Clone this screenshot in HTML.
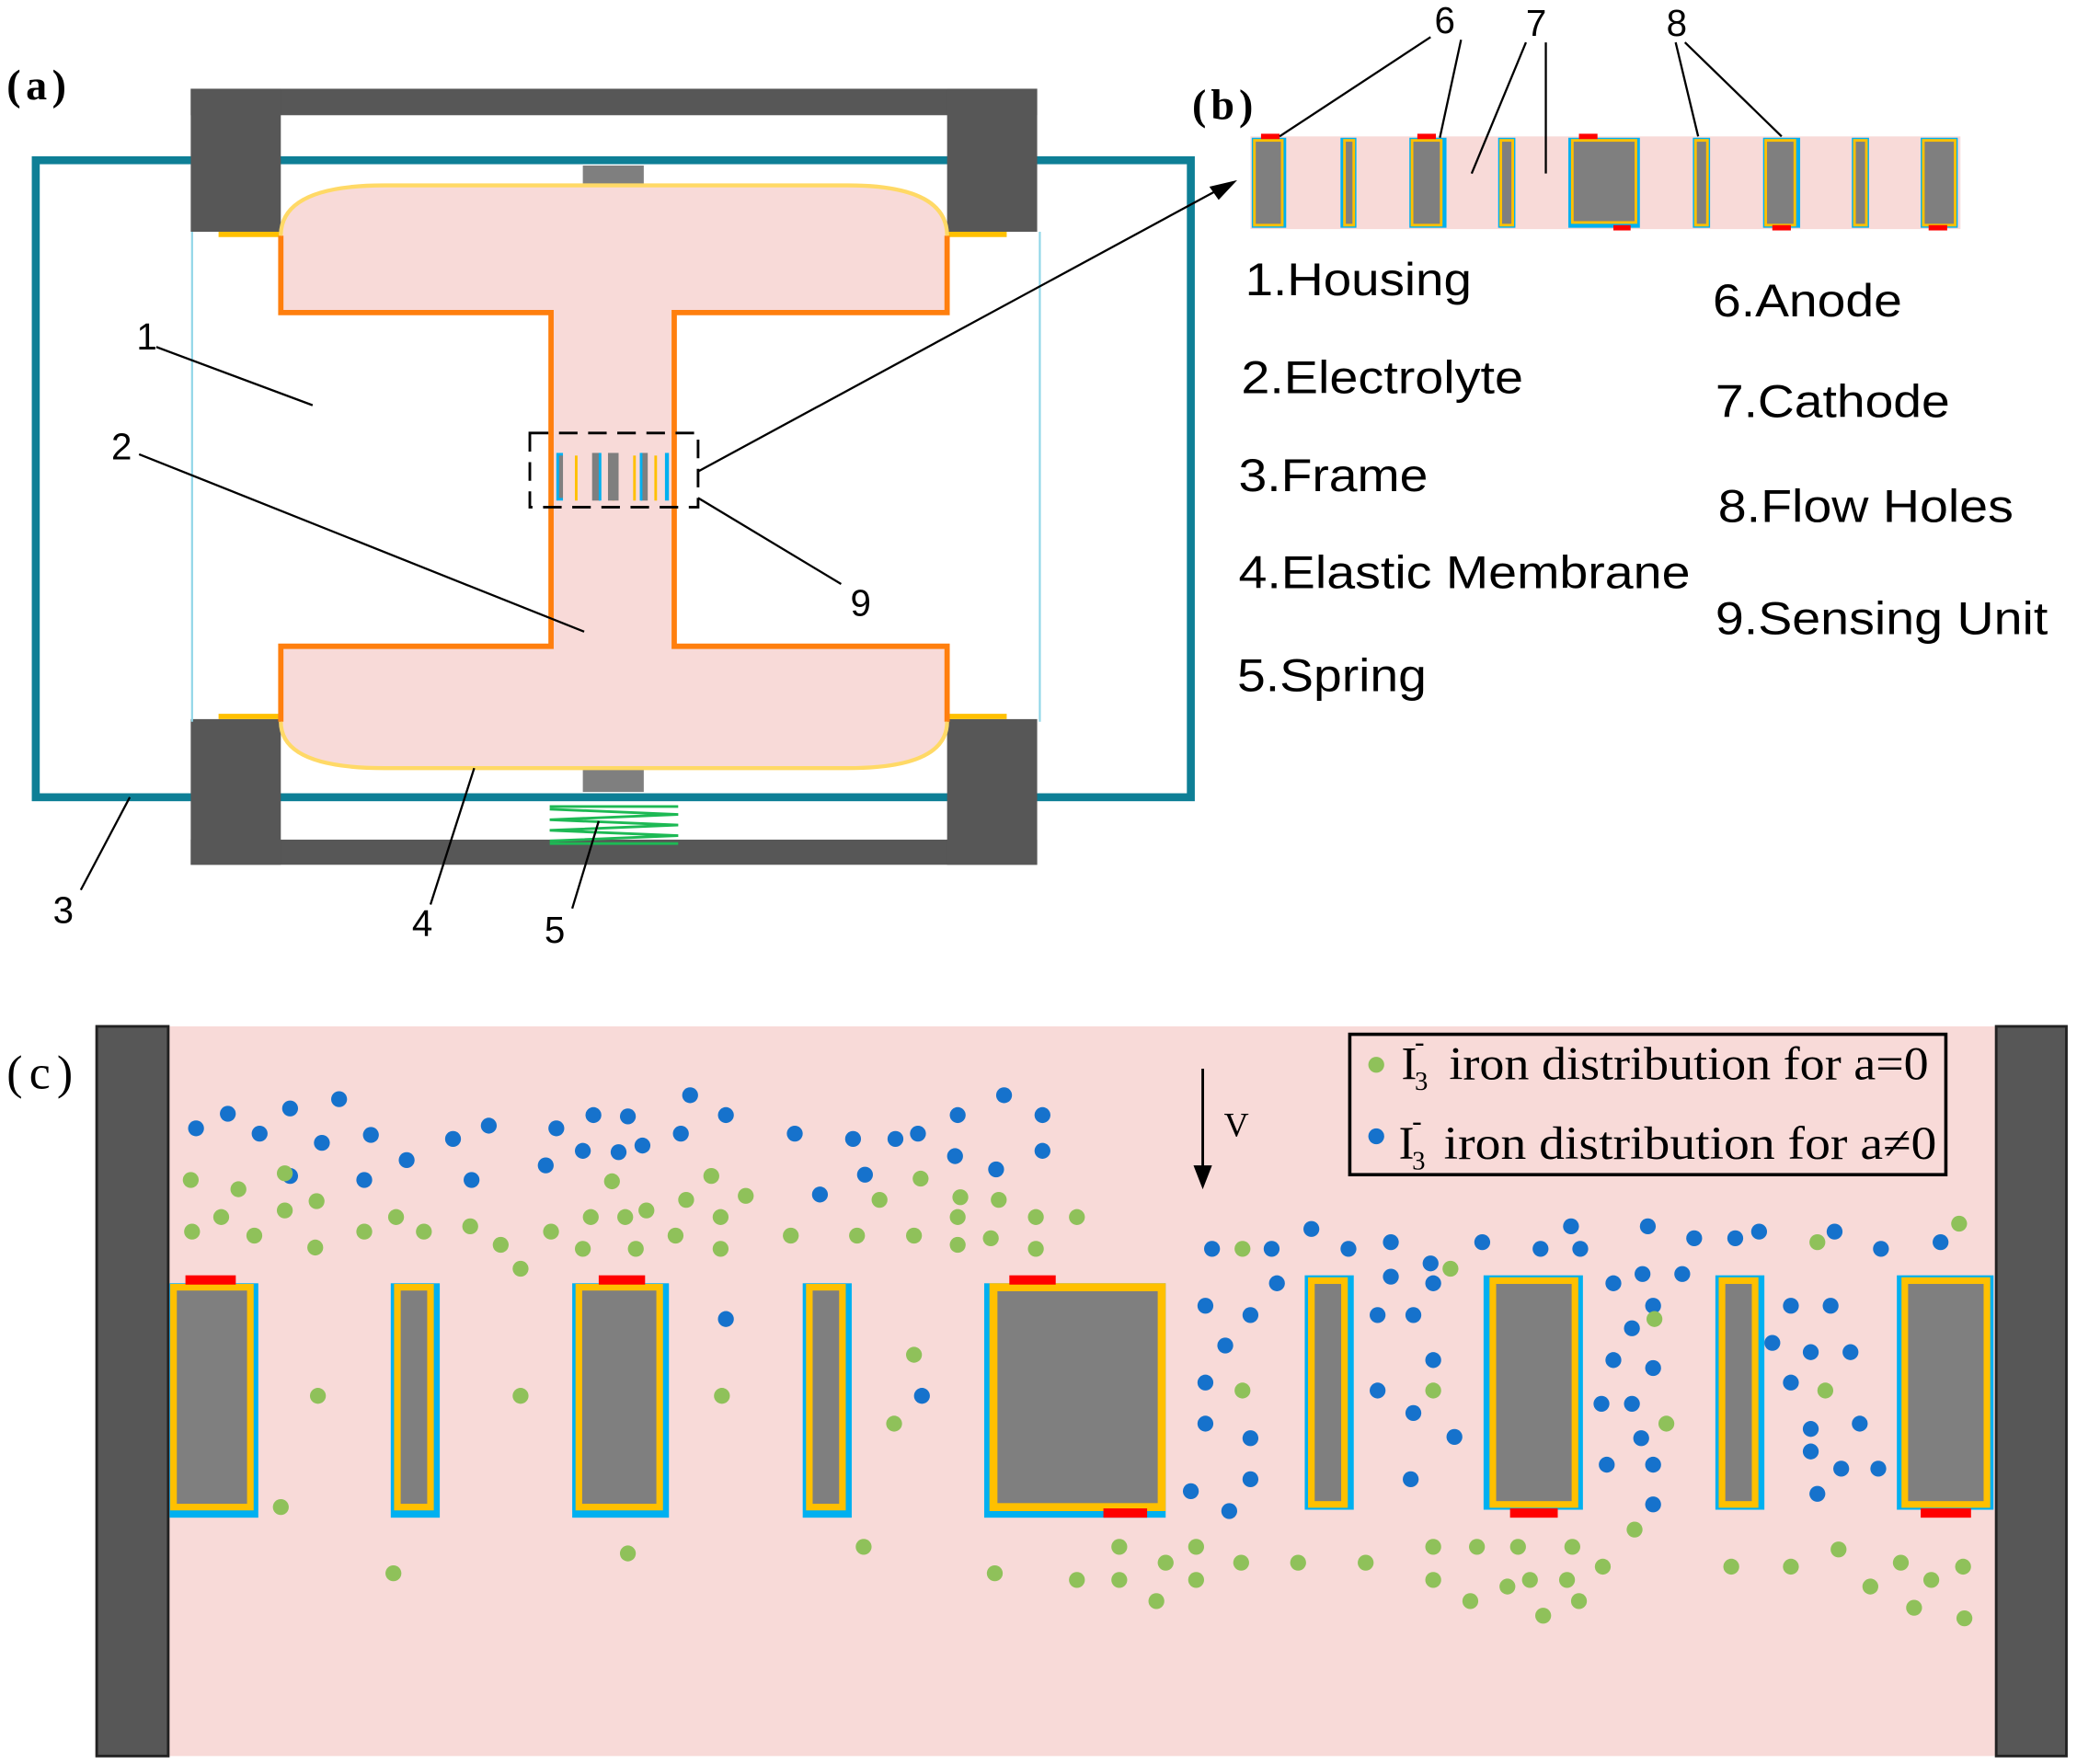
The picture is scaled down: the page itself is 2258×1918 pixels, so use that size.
<!DOCTYPE html>
<html><head><meta charset="utf-8"><style>html,body{margin:0;padding:0;background:#fff}svg{display:block}</style></head><body>
<svg xmlns="http://www.w3.org/2000/svg" width="2258" height="1918" viewBox="0 0 1568 1332" preserveAspectRatio="none" font-family="Liberation Sans, sans-serif">
<!-- Panel (a) -->
<text x="5" y="75" font-family="Liberation Serif, serif" font-size="32" font-weight="bold" textLength="45">(a)</text>
<rect x="27" y="121" width="872" height="481" fill="none" stroke="#0e7f96" stroke-width="6"/>
<rect x="144" y="67" width="639" height="20" fill="#575757"/>
<rect x="144" y="67" width="68" height="108" fill="#575757"/>
<rect x="715" y="67" width="68" height="108" fill="#575757"/>
<rect x="144" y="634" width="639" height="19" fill="#575757"/>
<rect x="144" y="543" width="68" height="110" fill="#575757"/>
<rect x="715" y="543" width="68" height="110" fill="#575757"/>
<rect x="440" y="125" width="46" height="15" fill="#7f7f7f"/>
<rect x="440" y="580" width="46" height="18" fill="#7f7f7f"/>
<line x1="145" y1="175" x2="145" y2="545" stroke="#8fd6e8" stroke-width="1.5"/>
<line x1="785" y1="175" x2="785" y2="545" stroke="#8fd6e8" stroke-width="1.5"/>
<line x1="165" y1="177" x2="212" y2="177" stroke="#ffc000" stroke-width="4"/>
<line x1="715" y1="177" x2="760" y2="177" stroke="#ffc000" stroke-width="4"/>
<line x1="165" y1="541" x2="212" y2="541" stroke="#ffc000" stroke-width="4"/>
<line x1="715" y1="541" x2="760" y2="541" stroke="#ffc000" stroke-width="4"/>
<path d="M212,236 L212,178 Q212,140 290,140 L640,140 Q715,140 715,178 L715,236 L509,236 L509,488 L715,488 L715,545 Q715,580 640,580 L290,580 Q212,580 212,545 L212,488 L416,488 L416,236 Z" fill="#f8dad8"/>
<path d="M212,178 L212,236 L416,236 L416,488 L212,488 L212,545 M715,178 L715,236 L509,236 L509,488 L715,488 L715,545" fill="none" stroke="#ff7f0e" stroke-width="4"/>
<path d="M212,178 Q212,140 290,140 L640,140 Q715,140 715,178" fill="none" stroke="#ffd966" stroke-width="3"/>
<path d="M212,545 Q212,580 290,580 L640,580 Q715,580 715,545" fill="none" stroke="#ffd966" stroke-width="3"/>
<!-- spring -->
<path d="M415,611 L512,615 L415,619 L512,623 L415,627 L512,631 L415,635" fill="none" stroke="#1db954" stroke-width="2"/>
<path d="M415,609 L512,609 M415,637 L512,637" stroke="#1db954" stroke-width="2"/>
<!-- sensing unit mini -->
<g>
<rect x="420" y="342" width="85" height="37" fill="#f8dad8"/>
<rect x="420" y="342" width="5" height="36" fill="#00b0f0"/><rect x="422" y="344" width="3" height="32" fill="#7f7f7f"/>
<rect x="434" y="344" width="2" height="34" fill="#ffc000"/>
<rect x="447" y="342" width="6" height="36" fill="#7f7f7f"/><rect x="452" y="342" width="2" height="36" fill="#00b0f0"/>
<rect x="462" y="344" width="2" height="34" fill="#ffc000"/>
<rect x="459" y="342" width="8" height="36" fill="#7f7f7f"/>
<rect x="478" y="344" width="2" height="34" fill="#ffc000"/>
<rect x="484" y="342" width="5" height="36" fill="#7f7f7f"/><rect x="483" y="342" width="2" height="36" fill="#00b0f0"/>
<rect x="494" y="344" width="2" height="34" fill="#ffc000"/>
<rect x="502" y="342" width="3" height="36" fill="#00b0f0"/>
</g>
<rect x="400" y="327" width="127" height="56" fill="none" stroke="#000" stroke-width="2" stroke-dasharray="14,8"/>
<!-- leaders (a) -->
<g stroke="#000" stroke-width="1.6" fill="none">
<line x1="118" y1="262" x2="236" y2="306"/>
<line x1="105" y1="343" x2="441" y2="477"/>
<line x1="61" y1="672" x2="98" y2="602"/>
<line x1="325" y1="683" x2="358" y2="580"/>
<line x1="432" y1="686" x2="452" y2="620"/>
<line x1="527" y1="376" x2="635" y2="441"/>
<line x1="527" y1="356" x2="922" y2="142"/>
</g>
<polygon points="934,136 913,141 920,151" fill="#000"/>
<g font-size="28">
<text x="103" y="264">1</text><text x="84" y="347">2</text><text x="40" y="697">3</text>
<text x="311" y="707">4</text><text x="411" y="712">5</text><text x="642" y="465">9</text>
</g>
<!-- Panel (b) -->
<text x="900" y="90" font-family="Liberation Serif, serif" font-size="32" font-weight="bold" textLength="46">(b)</text>
<rect x="944" y="103" width="536" height="70" fill="#f8dad8"/>
<g>
<rect x="945" y="104" width="26" height="68" fill="#00b0f0"/><rect x="947" y="106" width="21" height="64" fill="#7f7f7f" stroke="#ffc000" stroke-width="2"/>
<rect x="1012" y="104" width="12" height="68" fill="#00b0f0"/><rect x="1015" y="106" width="7" height="64" fill="#7f7f7f" stroke="#ffc000" stroke-width="2"/>
<rect x="1064" y="104" width="28" height="68" fill="#00b0f0"/><rect x="1066" y="106" width="22" height="64" fill="#7f7f7f" stroke="#ffc000" stroke-width="2"/>
<rect x="1131" y="104" width="13" height="68" fill="#00b0f0"/><rect x="1133" y="106" width="9" height="64" fill="#7f7f7f" stroke="#ffc000" stroke-width="2"/>
<rect x="1184" y="104" width="54" height="68" fill="#00b0f0"/><rect x="1187" y="106" width="48" height="62" fill="#7f7f7f" stroke="#ffc000" stroke-width="2"/>
<rect x="1278" y="104" width="13" height="68" fill="#00b0f0"/><rect x="1280" y="106" width="9" height="64" fill="#7f7f7f" stroke="#ffc000" stroke-width="2"/>
<rect x="1331" y="104" width="28" height="68" fill="#00b0f0"/><rect x="1333" y="106" width="22" height="64" fill="#7f7f7f" stroke="#ffc000" stroke-width="2"/>
<rect x="1398" y="104" width="13" height="68" fill="#00b0f0"/><rect x="1400" y="106" width="9" height="64" fill="#7f7f7f" stroke="#ffc000" stroke-width="2"/>
<rect x="1450" y="104" width="28" height="68" fill="#00b0f0"/><rect x="1452" y="106" width="24" height="64" fill="#7f7f7f" stroke="#ffc000" stroke-width="2"/>
<rect x="952" y="101" width="14" height="4" fill="#ff0000"/><rect x="1070" y="101" width="14" height="4" fill="#ff0000"/>
<rect x="1192" y="101" width="14" height="4" fill="#ff0000"/><rect x="1218" y="170" width="13" height="4" fill="#ff0000"/>
<rect x="1338" y="170" width="14" height="4" fill="#ff0000"/><rect x="1456" y="170" width="14" height="4" fill="#ff0000"/>
</g>
<g stroke="#000" stroke-width="1.6">
<line x1="1080" y1="28" x2="966" y2="103"/><line x1="1103" y1="30" x2="1087" y2="104"/>
<line x1="1152" y1="32" x2="1111" y2="131"/><line x1="1167" y1="32" x2="1167" y2="131"/>
<line x1="1265" y1="32" x2="1282" y2="103"/><line x1="1272" y1="32" x2="1345" y2="103"/>
</g>
<g font-size="28"><text x="1083" y="25">6</text><text x="1152" y="27">7</text><text x="1258" y="27">8</text></g>
<g font-size="35" lengthAdjust="spacingAndGlyphs">
<text x="940" y="223" textLength="171" lengthAdjust="spacingAndGlyphs">1.Housing</text>
<text x="937" y="297" textLength="213" lengthAdjust="spacingAndGlyphs">2.Electrolyte</text>
<text x="935" y="371" textLength="143" lengthAdjust="spacingAndGlyphs">3.Frame</text>
<text x="935" y="444" textLength="341" lengthAdjust="spacingAndGlyphs">4.Elastic Membrane</text>
<text x="934" y="522" textLength="143" lengthAdjust="spacingAndGlyphs">5.Spring</text>
<text x="1293" y="239" textLength="143" lengthAdjust="spacingAndGlyphs">6.Anode</text>
<text x="1295" y="315" textLength="177" lengthAdjust="spacingAndGlyphs">7.Cathode</text>
<text x="1297" y="394" textLength="223" lengthAdjust="spacingAndGlyphs">8.Flow Holes</text>
<text x="1295" y="479" textLength="251" lengthAdjust="spacingAndGlyphs">9.Sensing Unit</text>
</g>
<!-- Panel (c) -->
<text x="5" y="822" font-family="Liberation Serif, serif" font-size="36" textLength="50">(c)</text>
<rect x="72" y="775" width="1488" height="551" fill="#f8dad8"/>
<rect x="73" y="775" width="54" height="551" fill="#575757" stroke="#222" stroke-width="2"/>
<rect x="1507" y="775" width="53" height="551" fill="#575757" stroke="#222" stroke-width="2"/>
<g>
<rect x="128" y="969" width="67" height="177" fill="#00b0f0"/><rect x="131" y="972" width="58" height="166" fill="#7f7f7f" stroke="#ffc000" stroke-width="5"/>
<rect x="295" y="969" width="37" height="177" fill="#00b0f0"/><rect x="300" y="972" width="25" height="166" fill="#7f7f7f" stroke="#ffc000" stroke-width="5"/>
<rect x="432" y="969" width="73" height="177" fill="#00b0f0"/><rect x="437" y="972" width="61" height="166" fill="#7f7f7f" stroke="#ffc000" stroke-width="5"/>
<rect x="606" y="969" width="37" height="177" fill="#00b0f0"/><rect x="611" y="972" width="25" height="166" fill="#7f7f7f" stroke="#ffc000" stroke-width="5"/>
<rect x="743" y="969" width="137" height="177" fill="#00b0f0"/><rect x="750" y="972" width="127" height="166" fill="#7f7f7f" stroke="#ffc000" stroke-width="6"/>
<rect x="985" y="963" width="37" height="177" fill="#00b0f0"/><rect x="990" y="967" width="25" height="169" fill="#7f7f7f" stroke="#ffc000" stroke-width="5"/>
<rect x="1120" y="963" width="75" height="177" fill="#00b0f0"/><rect x="1127" y="967" width="62" height="169" fill="#7f7f7f" stroke="#ffc000" stroke-width="5"/>
<rect x="1295" y="963" width="37" height="177" fill="#00b0f0"/><rect x="1300" y="967" width="25" height="169" fill="#7f7f7f" stroke="#ffc000" stroke-width="5"/>
<rect x="1432" y="963" width="73" height="177" fill="#00b0f0"/><rect x="1438" y="967" width="62" height="169" fill="#7f7f7f" stroke="#ffc000" stroke-width="5"/>
<rect x="140" y="963" width="38" height="7" fill="#ff0000"/><rect x="452" y="963" width="35" height="7" fill="#ff0000"/>
<rect x="762" y="963" width="35" height="7" fill="#ff0000"/><rect x="833" y="1139" width="33" height="7" fill="#ff0000"/>
<rect x="1140" y="1139" width="36" height="7" fill="#ff0000"/><rect x="1450" y="1139" width="38" height="7" fill="#ff0000"/>
</g>
<g fill="#1672cc">
<circle cx="148" cy="852" r="6"/><circle cx="172" cy="841" r="6"/><circle cx="196" cy="856" r="6"/><circle cx="219" cy="837" r="6"/><circle cx="243" cy="863" r="6"/><circle cx="256" cy="830" r="6"/><circle cx="280" cy="857" r="6"/><circle cx="219" cy="888" r="6"/><circle cx="275" cy="891" r="6"/><circle cx="307" cy="876" r="6"/><circle cx="342" cy="860" r="6"/><circle cx="369" cy="850" r="6"/><circle cx="356" cy="891" r="6"/><circle cx="420" cy="852" r="6"/><circle cx="448" cy="842" r="6"/><circle cx="474" cy="843" r="6"/><circle cx="440" cy="869" r="6"/><circle cx="485" cy="865" r="6"/><circle cx="467" cy="870" r="6"/><circle cx="412" cy="880" r="6"/><circle cx="521" cy="827" r="6"/><circle cx="514" cy="856" r="6"/><circle cx="548" cy="842" r="6"/><circle cx="600" cy="856" r="6"/><circle cx="644" cy="860" r="6"/><circle cx="676" cy="860" r="6"/><circle cx="693" cy="856" r="6"/><circle cx="723" cy="842" r="6"/><circle cx="758" cy="827" r="6"/><circle cx="787" cy="842" r="6"/><circle cx="721" cy="873" r="6"/><circle cx="752" cy="883" r="6"/><circle cx="787" cy="869" r="6"/><circle cx="653" cy="887" r="6"/><circle cx="619" cy="902" r="6"/><circle cx="548" cy="996" r="6"/><circle cx="696" cy="1054" r="6"/><circle cx="915" cy="943" r="6"/><circle cx="960" cy="943" r="6"/><circle cx="990" cy="928" r="6"/><circle cx="1018" cy="943" r="6"/><circle cx="1050" cy="938" r="6"/><circle cx="1080" cy="954" r="6"/><circle cx="1119" cy="938" r="6"/><circle cx="1163" cy="943" r="6"/><circle cx="1186" cy="926" r="6"/><circle cx="1193" cy="943" r="6"/><circle cx="1244" cy="926" r="6"/><circle cx="1279" cy="935" r="6"/><circle cx="1310" cy="935" r="6"/><circle cx="1328" cy="930" r="6"/><circle cx="1385" cy="930" r="6"/><circle cx="1420" cy="943" r="6"/><circle cx="1465" cy="938" r="6"/><circle cx="964" cy="969" r="6"/><circle cx="1050" cy="964" r="6"/><circle cx="1082" cy="969" r="6"/><circle cx="910" cy="986" r="6"/><circle cx="944" cy="993" r="6"/><circle cx="1040" cy="993" r="6"/><circle cx="1067" cy="993" r="6"/><circle cx="1082" cy="1027" r="6"/><circle cx="925" cy="1016" r="6"/><circle cx="910" cy="1044" r="6"/><circle cx="1040" cy="1050" r="6"/><circle cx="1067" cy="1067" r="6"/><circle cx="1098" cy="1085" r="6"/><circle cx="910" cy="1075" r="6"/><circle cx="944" cy="1086" r="6"/><circle cx="1065" cy="1117" r="6"/><circle cx="944" cy="1117" r="6"/><circle cx="899" cy="1126" r="6"/><circle cx="928" cy="1141" r="6"/><circle cx="1218" cy="969" r="6"/><circle cx="1240" cy="962" r="6"/><circle cx="1270" cy="962" r="6"/><circle cx="1248" cy="986" r="6"/><circle cx="1232" cy="1003" r="6"/><circle cx="1218" cy="1027" r="6"/><circle cx="1248" cy="1033" r="6"/><circle cx="1209" cy="1060" r="6"/><circle cx="1232" cy="1060" r="6"/><circle cx="1239" cy="1086" r="6"/><circle cx="1213" cy="1106" r="6"/><circle cx="1248" cy="1106" r="6"/><circle cx="1248" cy="1136" r="6"/><circle cx="1338" cy="1014" r="6"/><circle cx="1352" cy="986" r="6"/><circle cx="1382" cy="986" r="6"/><circle cx="1367" cy="1021" r="6"/><circle cx="1397" cy="1021" r="6"/><circle cx="1352" cy="1044" r="6"/><circle cx="1367" cy="1079" r="6"/><circle cx="1404" cy="1075" r="6"/><circle cx="1367" cy="1096" r="6"/><circle cx="1390" cy="1109" r="6"/><circle cx="1418" cy="1109" r="6"/><circle cx="1372" cy="1128" r="6"/>
</g>
<g fill="#8fc15a">
<circle cx="144" cy="891" r="6"/><circle cx="180" cy="898" r="6"/><circle cx="215" cy="886" r="6"/><circle cx="239" cy="907" r="6"/><circle cx="145" cy="930" r="6"/><circle cx="167" cy="919" r="6"/><circle cx="192" cy="933" r="6"/><circle cx="215" cy="914" r="6"/><circle cx="238" cy="942" r="6"/><circle cx="275" cy="930" r="6"/><circle cx="299" cy="919" r="6"/><circle cx="320" cy="930" r="6"/><circle cx="355" cy="926" r="6"/><circle cx="378" cy="940" r="6"/><circle cx="393" cy="958" r="6"/><circle cx="416" cy="930" r="6"/><circle cx="446" cy="919" r="6"/><circle cx="472" cy="919" r="6"/><circle cx="488" cy="914" r="6"/><circle cx="518" cy="906" r="6"/><circle cx="537" cy="888" r="6"/><circle cx="563" cy="903" r="6"/><circle cx="462" cy="892" r="6"/><circle cx="440" cy="943" r="6"/><circle cx="480" cy="943" r="6"/><circle cx="510" cy="933" r="6"/><circle cx="544" cy="919" r="6"/><circle cx="544" cy="943" r="6"/><circle cx="597" cy="933" r="6"/><circle cx="647" cy="933" r="6"/><circle cx="664" cy="906" r="6"/><circle cx="690" cy="933" r="6"/><circle cx="695" cy="890" r="6"/><circle cx="725" cy="904" r="6"/><circle cx="754" cy="906" r="6"/><circle cx="723" cy="919" r="6"/><circle cx="723" cy="940" r="6"/><circle cx="748" cy="935" r="6"/><circle cx="782" cy="919" r="6"/><circle cx="782" cy="943" r="6"/><circle cx="813" cy="919" r="6"/><circle cx="938" cy="943" r="6"/><circle cx="1095" cy="958" r="6"/><circle cx="1372" cy="938" r="6"/><circle cx="1479" cy="924" r="6"/><circle cx="240" cy="1054" r="6"/><circle cx="393" cy="1054" r="6"/><circle cx="545" cy="1054" r="6"/><circle cx="690" cy="1023" r="6"/><circle cx="675" cy="1075" r="6"/><circle cx="938" cy="1050" r="6"/><circle cx="1082" cy="1050" r="6"/><circle cx="1249" cy="996" r="6"/><circle cx="1378" cy="1050" r="6"/><circle cx="1258" cy="1075" r="6"/><circle cx="212" cy="1138" r="6"/><circle cx="1234" cy="1155" r="6"/><circle cx="297" cy="1188" r="6"/><circle cx="474" cy="1173" r="6"/><circle cx="652" cy="1168" r="6"/><circle cx="751" cy="1188" r="6"/><circle cx="845" cy="1168" r="6"/><circle cx="880" cy="1180" r="6"/><circle cx="903" cy="1168" r="6"/><circle cx="937" cy="1180" r="6"/><circle cx="813" cy="1193" r="6"/><circle cx="845" cy="1193" r="6"/><circle cx="873" cy="1209" r="6"/><circle cx="903" cy="1193" r="6"/><circle cx="980" cy="1180" r="6"/><circle cx="1031" cy="1180" r="6"/><circle cx="1082" cy="1168" r="6"/><circle cx="1115" cy="1168" r="6"/><circle cx="1146" cy="1168" r="6"/><circle cx="1187" cy="1168" r="6"/><circle cx="1210" cy="1183" r="6"/><circle cx="1082" cy="1193" r="6"/><circle cx="1110" cy="1209" r="6"/><circle cx="1138" cy="1198" r="6"/><circle cx="1155" cy="1193" r="6"/><circle cx="1183" cy="1193" r="6"/><circle cx="1192" cy="1209" r="6"/><circle cx="1165" cy="1220" r="6"/><circle cx="1307" cy="1183" r="6"/><circle cx="1352" cy="1183" r="6"/><circle cx="1388" cy="1170" r="6"/><circle cx="1412" cy="1198" r="6"/><circle cx="1435" cy="1180" r="6"/><circle cx="1458" cy="1193" r="6"/><circle cx="1482" cy="1183" r="6"/><circle cx="1445" cy="1214" r="6"/><circle cx="1483" cy="1222" r="6"/>
</g>
<!-- V arrow -->
<line x1="908" y1="807" x2="908" y2="885" stroke="#000" stroke-width="2"/>
<polygon points="908,898 901,880 915,880" fill="#000"/>
<text x="924" y="858" font-family="Liberation Serif, serif" font-size="26">V</text>
<!-- legend -->
<rect x="1019" y="781" width="450" height="106" fill="none" stroke="#000" stroke-width="2.5"/>
<circle cx="1039" cy="804" r="6" fill="#8fc15a"/>
<circle cx="1039" cy="858" r="6" fill="#1672cc"/>
<g font-family="Liberation Serif, serif" font-size="35">
<text x="1058" y="815">I</text><text x="1068" y="823" font-size="20">3</text>
<text x="1094" y="815" textLength="362" lengthAdjust="spacingAndGlyphs">iron distribution for a=0</text>
<text x="1056" y="875">I</text><text x="1066" y="883" font-size="20">3</text>
<text x="1090" y="875" textLength="372" lengthAdjust="spacingAndGlyphs">iron distribution for a≠0</text>
<text x="1068" y="794" font-size="22">-</text>
<text x="1066" y="854" font-size="22">-</text>
</g>
</svg>
</body></html>
